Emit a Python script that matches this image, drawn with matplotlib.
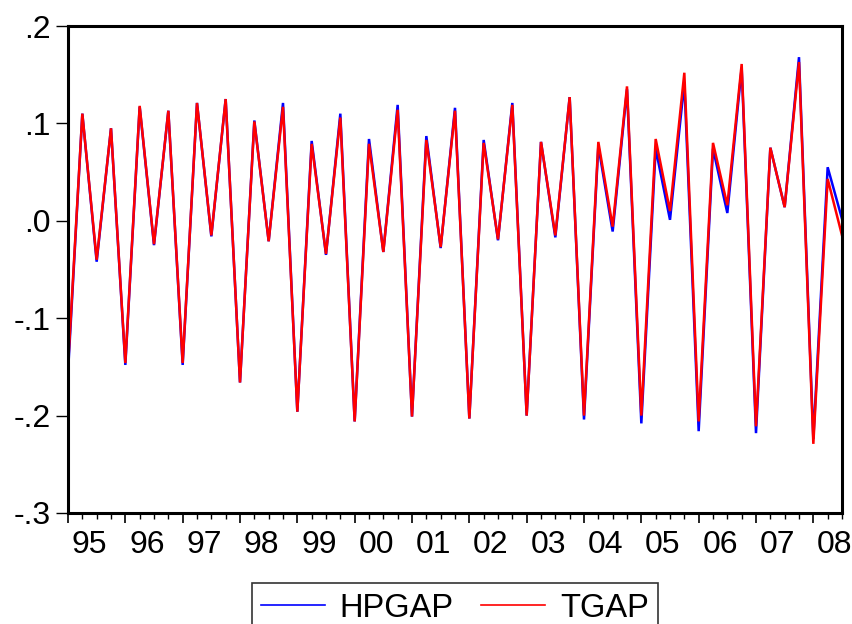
import matplotlib
matplotlib.use("Agg")
import matplotlib.pyplot as plt
import numpy as np
import pandas as pd

plt.rcParams['font.family'] = ['Liberation Sans', 'DejaVu Sans']

quarters = pd.period_range('1995Q1', '2008Q3', freq='Q')

hpgap = [-0.156, 0.110, -0.042, 0.095, -0.148, 0.117, -0.025, 0.113,
         -0.148, 0.121, -0.016, 0.125, -0.166, 0.103, -0.021, 0.121,
         -0.196, 0.082, -0.035, 0.110, -0.206, 0.084, -0.032, 0.119,
         -0.201, 0.087, -0.028, 0.116, -0.203, 0.083, -0.020, 0.121,
         -0.200, 0.081, -0.017, 0.127, -0.204, 0.077, -0.011, 0.135,
         -0.208, 0.074, 0.001, 0.142, -0.216, 0.074, 0.008, 0.157,
         -0.218, 0.075, 0.014, 0.168, -0.224, 0.055, 0.002]

tgap = [-0.150, 0.110, -0.040, 0.095, -0.146, 0.118, -0.024, 0.113,
        -0.146, 0.121, -0.015, 0.125, -0.166, 0.102, -0.021, 0.117,
        -0.196, 0.079, -0.034, 0.106, -0.206, 0.079, -0.032, 0.114,
        -0.201, 0.083, -0.027, 0.113, -0.203, 0.080, -0.019, 0.119,
        -0.200, 0.081, -0.015, 0.127, -0.200, 0.081, -0.006, 0.138,
        -0.200, 0.084, 0.010, 0.152, -0.206, 0.080, 0.016, 0.161,
        -0.211, 0.075, 0.014, 0.163, -0.229, 0.043, -0.015]

years = list(range(1995, 2009))
year_labels = [f"{y % 100:02d}" for y in years]
y_ticks = [0.2, 0.1, 0.0, -0.1, -0.2, -0.3]
y_labels = ['.2', '.1', '.0', '-.1', '-.2', '-.3']

x = np.array([p.year + (p.quarter - 1) / 4 for p in quarters])

fig = plt.figure(figsize=(8.53, 6.24), dpi=100)
ax = fig.add_axes([68 / 853, 1 - 513 / 624, (842 - 68) / 853, (513 - 26) / 624])

ax.plot(x, hpgap, color='#0000ff', lw=1.8, label='HPGAP', solid_joinstyle='miter')
ax.plot(x, tgap, color='#ff0000', lw=1.8, label='TGAP', solid_joinstyle='miter')

ax.set_xlim(x[0], x[-1])
ax.set_ylim(-0.3, 0.2)

for s in ax.spines.values():
    s.set_linewidth(2.2)
    s.set_color('black')

ax.set_yticks(y_ticks)
ax.set_yticklabels(y_labels)
ax.tick_params(axis='y', direction='out', length=9, width=1.0, pad=3.5,
               labelsize=23, colors='black')

ax.set_xticks(years)
ax.set_xticklabels([])
ax.set_xticks(x, minor=True)
ax.tick_params(axis='x', which='major', direction='out', length=7, width=1.2)
ax.tick_params(axis='x', which='minor', direction='out', length=4, width=1.0)

sec = ax.secondary_xaxis('bottom')
sec.set_xticks([y + 0.375 for y in years])
sec.set_xticklabels(year_labels)
sec.tick_params(length=0, pad=12, labelsize=23)
sec.spines['bottom'].set_visible(False)

leg = fig.legend(loc='upper center', bbox_to_anchor=(455 / 853, 1 - 583 / 624),
                 ncol=2, frameon=True, fancybox=False, fontsize=23.5,
                 handlelength=1.95, handletextpad=0.45, columnspacing=0.85,
                 borderpad=0.3, borderaxespad=0.0)
leg.get_frame().set_edgecolor('black')
leg.get_frame().set_linewidth(1.2)
for line in leg.get_lines():
    line.set_linewidth(1.2)

fig.savefig('out.png', dpi=100)
